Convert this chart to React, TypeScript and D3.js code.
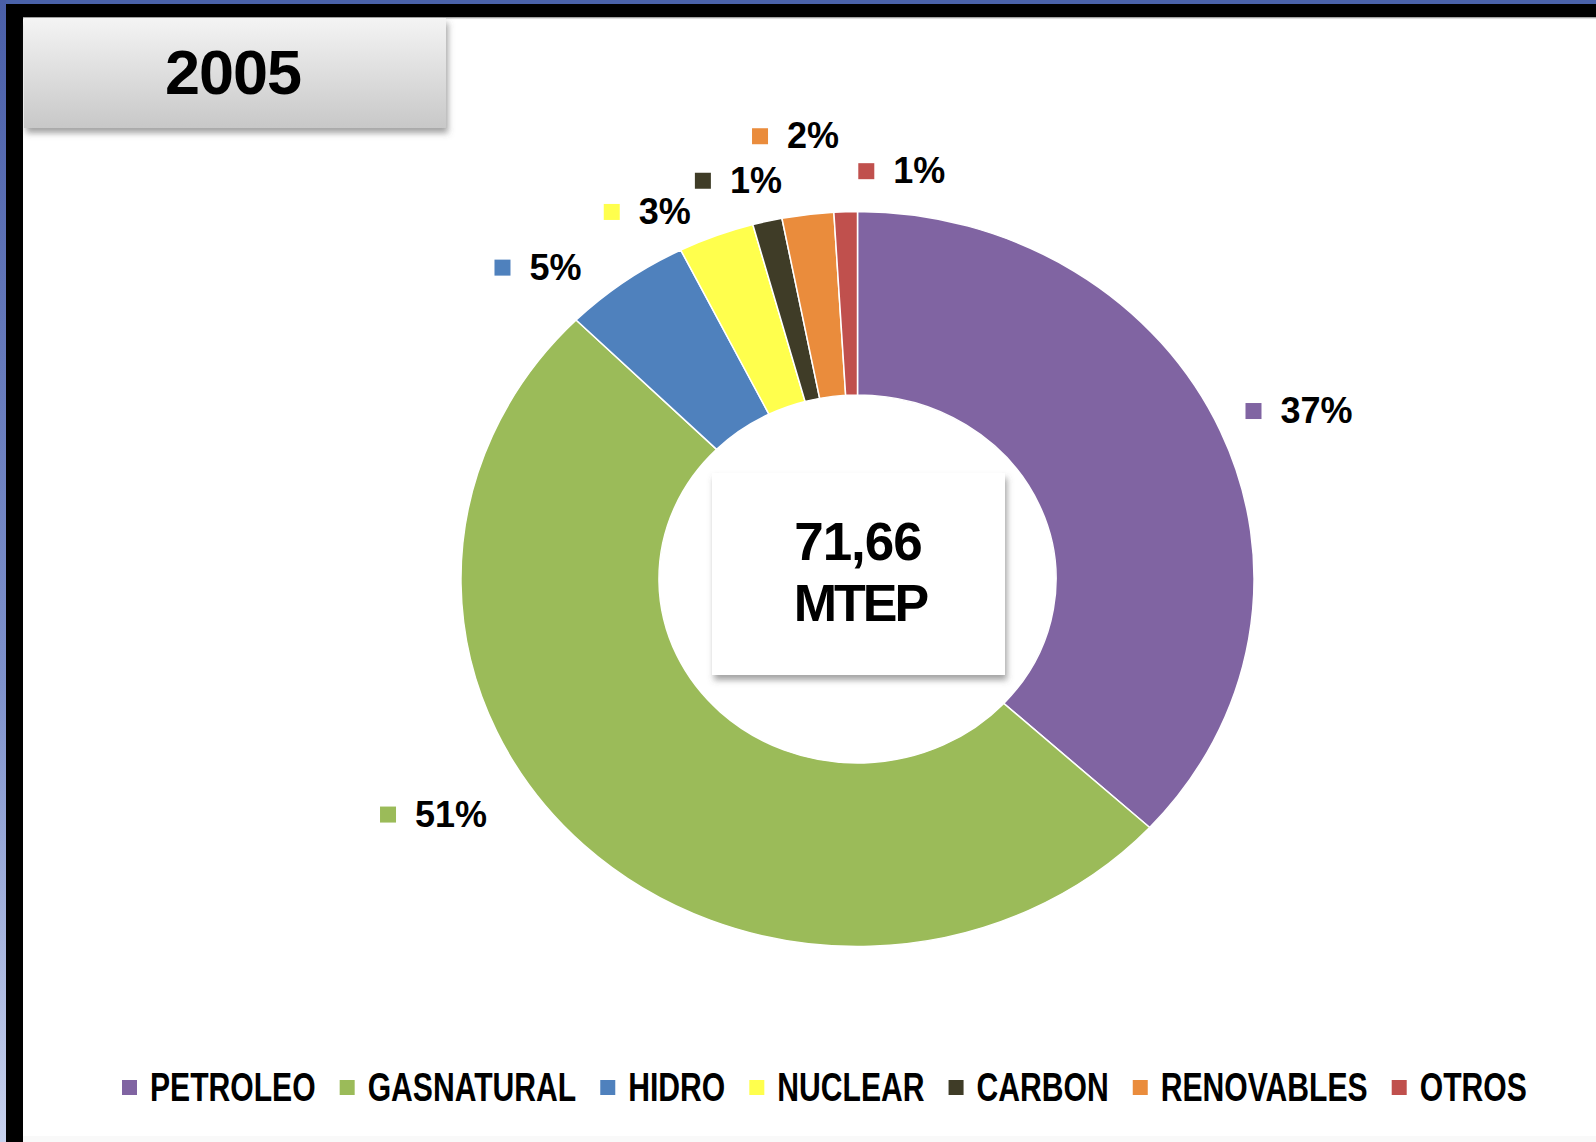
import React, { useEffect, useMemo } from "react";
import * as d3 from "d3";

// ---------- data ----------
const categories = ["PETROLEO", "GASNATURAL", "HIDRO", "NUCLEAR", "CARBON", "RENOVABLES", "OTROS"];
const shares = [36.8, 50.6, 5.2, 3.1, 1.2, 2.1, 0.95];
const shareLabels = ["37%", "51%", "5%", "3%", "1%", "2%", "1%"];
const sliceColors = ["#8064a2", "#9bbb59", "#4f81bd", "#ffff4d", "#3f3c27", "#ea8c3c", "#c0504d"];
const yearLabel = "2005";
const totalValue = "71,66";
const totalUnit = "MTEP";

// ---------- layout ----------
const W = 1596;
const H = 1142;
const CX = 857.5;
const CY = 579;
const RY_OUT = 367.5;
const RY_IN = 184;
const XSTRETCH = 1.079;
const LABEL_R = 410;
// manual nudges of the data labels (the original labels were dragged by hand)
const labelNudges: [number, number][] = [
  [-9, -3],
  [-164, -61],
  [-96, 21],
  [-88, 16],
  [-54, 1],
  [-42, -36],
  [22, 2],
];

const FONT = "'Liberation Sans', Arial, sans-serif";
const LEGEND_FONT_SIZE = 40;
const LEGEND_SQUEEZE = 0.753;

function measure(text: string, font: string): number {
  const ctx = document.createElement("canvas").getContext("2d");
  if (!ctx) return text.length * 20;
  ctx.font = font;
  return ctx.measureText(text).width;
}

export default function App() {
  useEffect(() => {
    document.body.style.margin = "0";
  }, []);

  const arcs = useMemo(() => d3.pie<number>().sort(null).value((d) => d)(shares), []);
  const arcGen = d3.arc<d3.PieArcDatum<number>>().innerRadius(RY_IN).outerRadius(RY_OUT);
  const labelArc = d3.arc<d3.PieArcDatum<number>>().innerRadius(LABEL_R).outerRadius(LABEL_R);

  const legendItems = useMemo(() => {
    const font = `bold ${LEGEND_FONT_SIZE}px ${FONT}`;
    let x = 122;
    return categories.map((c, i) => {
      const w = measure(c, font) * LEGEND_SQUEEZE;
      const item = { name: c, color: sliceColors[i], mx: x, tx: x + 28, w };
      x = x + 28 + w + 24;
      return item;
    });
  }, []);

  return (
    <svg width={W} height={H} style={{ display: "block" }} fontFamily={FONT}>
      <defs>
        <linearGradient id="leftBlue" x1="0" y1="0" x2="0" y2="1">
          <stop offset="0" stopColor="#4a5fa8" />
          <stop offset="0.6" stopColor="#7f92cc" />
          <stop offset="1" stopColor="#c8d2ee" />
        </linearGradient>
        <linearGradient id="yearGrad" x1="0" y1="0" x2="0" y2="1">
          <stop offset="0" stopColor="#f4f4f4" />
          <stop offset="1" stopColor="#c8c8c8" />
        </linearGradient>
        <linearGradient id="topShadow" x1="0" y1="0" x2="0" y2="1">
          <stop offset="0" stopColor="#777" />
          <stop offset="1" stopColor="#fff" stopOpacity="0" />
        </linearGradient>
        <filter id="shadow" x="-10%" y="-10%" width="130%" height="140%">
          <feDropShadow dx="2" dy="5" stdDeviation="3" floodColor="#555" floodOpacity="0.55" />
        </filter>
      </defs>

      {/* background and frame */}
      <rect x={0} y={0} width={W} height={H} fill="#ffffff" />
      <rect x={0} y={0} width={W} height={4} fill="#4a62aa" />
      <rect x={0} y={0} width={6} height={H} fill="url(#leftBlue)" />
      <rect x={6} y={4} width={W - 6} height={13} fill="#000" />
      <rect x={6} y={4} width={17} height={H - 4} fill="#000" />
      <rect x={23} y={17} width={W - 23} height={3} fill="url(#topShadow)" />
      <rect x={23} y={1136} width={W - 23} height={6} fill="#f9f9f9" />

      {/* year box */}
      <rect x={24} y={18} width={422} height={110} fill="url(#yearGrad)" filter="url(#shadow)" />
      <text x={233} y={94} textAnchor="middle" fontSize={63} fontWeight="bold" letterSpacing={-1} fill="#000">
        {yearLabel}
      </text>

      {/* doughnut */}
      <g transform={`translate(${CX},${CY}) scale(${XSTRETCH},1)`}>
        {arcs.map((a, i) => (
          <path
            key={categories[i]}
            d={arcGen(a) || ""}
            fill={sliceColors[i]}
            stroke="#ffffff"
            strokeWidth={1.5}
            vectorEffect="non-scaling-stroke"
          />
        ))}
      </g>

      {/* data labels */}
      {arcs.map((a, i) => {
        const [lx, ly] = labelArc.centroid(a);
        const mx = CX + lx * XSTRETCH + labelNudges[i][0];
        const my = CY + ly + labelNudges[i][1];
        return (
          <g key={`lab-${i}`}>
            <rect x={mx - 8} y={my - 8} width={16} height={16} fill={sliceColors[i]} />
            <text x={mx + 27} y={my + 12} fontSize={36} fontWeight="bold" letterSpacing={0} fill="#000">
              {shareLabels[i]}
            </text>
          </g>
        );
      })}

      {/* center box */}
      <rect x={712} y={473} width={293} height={202} fill="#ffffff" filter="url(#shadow)" />
      <text x={858} y={560} textAnchor="middle" fontSize={53} fontWeight="bold" letterSpacing={-1} fill="#000">
        {totalValue}
      </text>
      <text x={860} y={621} textAnchor="middle" fontSize={52} fontWeight="bold" letterSpacing={-3} fill="#000">
        {totalUnit}
      </text>

      {/* legend */}
      {legendItems.map((it) => (
        <g key={`leg-${it.name}`}>
          <rect x={it.mx} y={1080} width={15} height={15} fill={it.color} />
          <g transform={`translate(${it.tx},1101) scale(${LEGEND_SQUEEZE},1)`}>
            <text x={0} y={0} fontSize={LEGEND_FONT_SIZE} fontWeight="bold" fill="#000">
              {it.name}
            </text>
          </g>
        </g>
      ))}
    </svg>
  );
}
